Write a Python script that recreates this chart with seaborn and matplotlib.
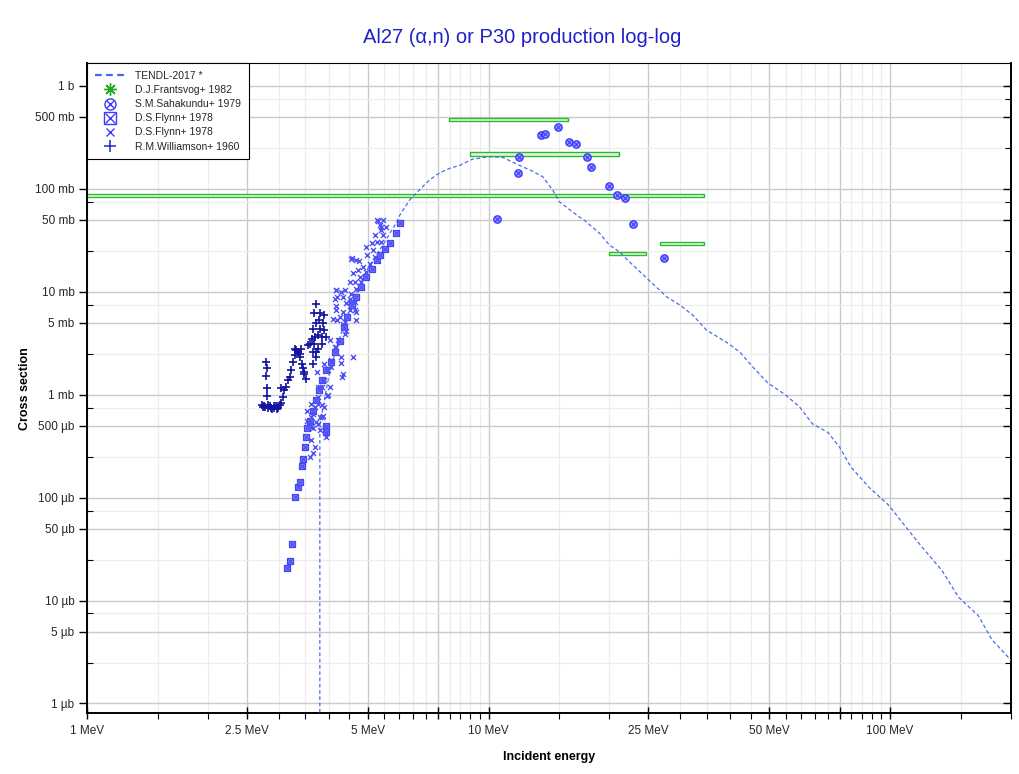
import matplotlib
matplotlib.use('Agg')
import numpy as np
import pandas as pd
import matplotlib.pyplot as plt
import matplotlib.ticker as mticker
import matplotlib.lines as mlines
from matplotlib.lines import Line2D
import seaborn as sns

# TENDL-2017 evaluation (MeV, mb)
tendl_e = [3.80, 3.80, 3.88, 4.0, 4.15, 4.3, 4.5, 4.7, 4.9, 5.1, 5.3, 5.5, 5.7, 5.9, 6.0,
           6.36, 6.8, 7.13, 7.55, 8.0, 8.5, 9.1, 10.05, 10.85, 11.9, 12.8, 13.65, 14.45,
           15.0, 15.9, 16.8, 17.3, 18.9, 20.0, 21.2, 22.0, 24.8, 27.8, 30.0, 32.3, 34.9,
           39.0, 42.2, 45.5, 49.6, 55.0, 59.5, 64.1, 70.0, 74.8, 79.9, 88.6, 99.3, 109.5,
           120.2, 134.6, 148, 166, 179, 197, 200]
tendl_mb = [1e-6, 0.5, 0.8, 1.5, 2.6, 4.0, 6.5, 10, 14.5, 19, 24, 30, 38, 47, 55,
            78, 102, 122, 143, 158, 170, 194, 205, 202, 170, 150, 131, 97,
            75, 63, 53.6, 49.7, 37, 28.4, 24.4, 21.0, 13.5, 8.9, 7.4, 5.9, 4.23,
            3.26, 2.60, 1.86, 1.30, 0.99, 0.76, 0.52, 0.43, 0.31, 0.198, 0.126, 0.084, 0.0517,
            0.0329, 0.0196, 0.0108, 0.0071, 0.0042, 0.0028, 0.0026]

# D.J.Frantsvog+ 1982 : energy ranges and values
fra_lo = [7.96, 8.97, 0.5, 19.9, 26.8]
fra_hi = [15.75, 21.1, 34.3, 24.7, 34.3]
fra_mb = [474, 217, 86, 23.6, 29.6]

# S.M.Sahakundu+ 1979
sah_e = [10.47, 11.85, 11.93, 13.5, 13.8, 14.9, 15.9, 16.5, 17.6, 18.0, 19.9, 20.9, 21.9, 22.9, 27.3]
sah_mb = [50.8, 142, 204, 333, 340, 399, 285, 273, 204, 163, 106, 87, 82, 45.5, 21.2]

# D.S.Flynn+ 1978 (boxed cross)
fly1_e = [3.15, 3.20, 3.24, 3.30, 3.35, 3.40, 3.43, 3.46, 3.49, 3.52, 3.54, 3.59, 3.65, 3.71,
          3.78, 3.84, 3.93, 4.05, 4.15, 4.26, 4.36, 4.44, 4.56, 4.68, 4.80, 4.94, 5.13, 5.26,
          5.36, 5.51, 5.67, 5.89, 6.01, 3.94, 3.94]
fly1_mb = [0.0205, 0.0245, 0.0358, 0.101, 0.127, 0.142, 0.204, 0.239, 0.31, 0.39, 0.47, 0.56,
           0.70, 0.88, 1.10, 1.38, 1.73, 2.1, 2.6, 3.3, 4.5, 5.7, 7.4, 8.9, 11.2, 14.0, 16.8,
           20.3, 22.7, 26.3, 29.5, 37, 46.4, 0.50, 0.43]

# D.S.Flynn+ 1978 (cross)
fly2_e = [3.59, 3.66, 3.70, 3.62, 3.93, 3.80, 3.76, 3.87, 3.66, 3.54, 3.54, 3.62, 3.85,
          3.94, 3.93, 3.80, 3.62, 3.72, 3.85, 3.66, 3.90, 3.76, 3.98, 3.80, 4.02, 3.90, 4.05,
          4.34, 4.30, 4.59, 4.30, 4.18, 4.02, 4.42, 4.19, 4.34, 4.64, 4.51, 4.16, 4.30, 4.19,
          4.18, 4.68, 4.55, 5.40, 5.31, 4.14, 4.21, 4.39, 4.05, 3.98, 3.85, 3.76, 3.69, 3.62,
          3.59, 3.76, 3.90, 4.31, 3.97, 3.74,
          5.27, 5.46, 5.36, 5.55, 5.40, 5.20, 5.46, 5.26, 5.12, 5.40, 5.15, 4.94, 4.99, 5.20,
          4.58, 4.76, 5.06, 4.86, 4.73, 4.59, 4.94, 4.78, 4.51, 4.64, 4.81, 4.68, 4.39, 4.18,
          4.55, 4.34, 4.51, 4.14, 4.64, 4.42, 4.18, 4.34, 4.51, 4.68, 4.26, 4.10, 4.68, 4.39]
fly2_mb = [0.25, 0.27, 0.31, 0.36, 0.39, 0.61, 0.52, 0.62, 0.47, 0.56, 0.70, 0.82, 0.79,
           0.42, 0.49, 0.45, 0.49, 0.54, 0.61, 0.65, 0.76, 0.82, 0.99, 1.19, 1.19, 1.38, 1.86,
           1.6, 2.03, 2.33, 2.33, 2.9, 3.38, 4.2, 5.3, 4.9, 6.6, 7.97, 7.2, 10.0, 8.8,
           10.4, 20.3, 20.6, 42.8, 49, 2.9, 3.38, 3.9, 2.16, 1.73, 1.19, 0.95, 0.76, 0.61,
           0.52, 1.19, 2.0, 1.47, 0.965, 1.66,
           49.7, 49.7, 44.4, 42.8, 39.7, 35.5, 35.5, 30.6, 29.5, 30.6, 25.4, 27.3, 22.7, 21.9,
           21.1, 20.0, 18.8, 17.4, 16.2, 15.1, 15.6, 14.0, 12.5, 12.5, 12.5, 10.7, 10.4, 10.4,
           9.6, 8.9, 8.6, 8.6, 7.97, 7.7, 6.6, 6.4, 6.6, 6.4, 5.7, 5.5, 5.3, 5.1]

# R.M.Williamson+ 1960
wil_e = [2.79, 2.80, 2.79, 2.81, 2.81, 2.76, 2.82, 2.72, 2.77, 2.82, 2.85, 2.89, 2.92, 2.95,
         2.99, 3.02, 3.04, 2.74, 2.87, 2.97, 2.93, 3.05, 3.09, 3.07, 3.13, 3.17, 3.20, 3.23,
         3.26, 3.29, 3.32, 3.35, 3.42, 3.39, 3.29, 3.39, 3.45, 3.48, 3.51, 3.47, 3.44, 3.59,
         3.69, 3.66, 3.72, 3.67, 3.71, 3.81, 3.90, 3.87, 3.80, 3.90, 3.76, 3.94, 3.85, 3.68,
         3.72, 3.66, 3.55, 3.76, 3.72, 3.66, 3.84, 3.78, 3.63]
wil_mb = [2.07, 1.82, 1.53, 1.16, 0.965, 0.78, 0.79, 0.79, 0.76, 0.74, 0.77, 0.72, 0.75, 0.77,
          0.74, 0.79, 0.84, 0.76, 0.74, 0.72, 0.78, 1.15, 1.10, 0.94, 1.19, 1.38, 1.49, 1.73,
          2.08, 2.42, 2.70, 2.60, 2.81, 2.33, 2.81, 2.51, 1.80, 1.60, 1.43, 1.65, 2.0, 3.14,
          3.65, 4.39, 4.92, 6.16, 7.56, 6.16, 5.92, 4.92, 4.39, 4.23, 3.78, 3.65, 3.14, 3.14,
          2.60, 2.60, 3.02, 2.81, 2.33, 2.0, 3.6, 5.3, 3.5]

tendl = pd.DataFrame({'E': tendl_e, 'xs': tendl_mb})

sns.set_theme(style='white')
plt.rcParams['font.family'] = ['Liberation Sans', 'DejaVu Sans']

fig = plt.figure(figsize=(10.2, 7.74), dpi=100)
ax = fig.add_axes([0.0853, 0.0782, 0.9059, 0.8404])
ax.set_xscale('log')
ax.set_yscale('log')

# Frantsvog energy-range boxes
ax.barh(y=fra_mb, width=np.array(fra_hi) - np.array(fra_lo), left=fra_lo,
        height=np.array(fra_mb) * 0.08, color='#e2f6e2', edgecolor='#2db82d',
        linewidth=1.0, zorder=2)

sns.lineplot(data=tendl, x='E', y='xs', estimator=None, sort=False, color='#4a6cec',
             linewidth=0.9, linestyle=(0, (3, 2)), ax=ax, zorder=3)

blue = '#3c3cff'
sns.scatterplot(x=sah_e, y=sah_mb, marker='o', s=28, color='#9c9cff', edgecolor=blue,
                linewidth=1.0, ax=ax, zorder=4)
sns.scatterplot(x=sah_e, y=sah_mb, marker='x', s=10, color=blue, linewidth=0.8, ax=ax, zorder=5)

sns.scatterplot(x=fly1_e, y=fly1_mb, marker='s', s=22, color='#7a7aff', edgecolor='#4646f0',
                linewidth=0.9, ax=ax, zorder=4)
sns.scatterplot(x=fly1_e, y=fly1_mb, marker='x', s=9, color='#4646f0', linewidth=0.7, ax=ax, zorder=4)
sns.scatterplot(x=fly2_e, y=fly2_mb, marker='x', s=13, color='#5050f8', linewidth=1.0, ax=ax, zorder=4)

sns.scatterplot(x=wil_e, y=wil_mb, marker='+', s=30, color='#12129e', linewidth=1.2, ax=ax, zorder=6)

ax.set_xlim(1, 200)
ax.set_ylim(8e-4, 1670)

# ticks and grid
ax.xaxis.set_major_locator(mticker.LogLocator(base=10, subs=[1, 2.5, 5, 7.5], numticks=50))
ax.xaxis.set_minor_locator(mticker.LogLocator(base=10, subs=[1.5, 2, 3, 3.5, 4, 4.5, 5.5, 6, 6.5,
                                                             7, 8, 8.5, 9, 9.5], numticks=50))
ax.yaxis.set_major_locator(mticker.LogLocator(base=10, subs=[1, 5], numticks=50))
ax.yaxis.set_minor_locator(mticker.LogLocator(base=10, subs=[2.5, 7.5], numticks=50))


def e_fmt(v, pos):
    m = v / 10 ** np.floor(np.log10(v) + 1e-9)
    if min(abs(m - k) for k in (1, 2.5, 5)) < 1e-6:
        return f'{v:g} MeV'
    return ''


def s_fmt(v, pos):
    if v >= 999:
        return f'{v / 1000:g} b'
    if v >= 0.999:
        return f'{v:g} mb'
    return f'{round(v * 1000, 6):g} µb'


ax.xaxis.set_major_formatter(mticker.FuncFormatter(e_fmt))
ax.xaxis.set_minor_formatter(mticker.NullFormatter())
ax.yaxis.set_major_formatter(mticker.FuncFormatter(s_fmt))
ax.yaxis.set_minor_formatter(mticker.NullFormatter())
ax.xaxis.get_offset_text().set_visible(False)
ax.yaxis.get_offset_text().set_visible(False)

ax.set_axisbelow(True)
ax.grid(which='major', color='#cacaca', linewidth=1.0)
ax.grid(which='minor', color='#ededed', linewidth=0.9)

ax.tick_params(axis='x', which='major', direction='inout', length=8, width=1, color='black',
               labelsize=8.5, pad=4, bottom=True)
ax.tick_params(axis='x', which='minor', direction='out', length=4, width=0.8, color='black', bottom=True)
ax.tick_params(axis='y', which='major', direction='out', length=6, width=1, color='black',
               labelsize=8.5, pad=3, left=True, right=True)
ax.tick_params(axis='y', which='minor', direction='in', length=4, width=0.8, color='black',
               left=True, right=True)

# right-hand ticks point inwards
for t in ax.yaxis.get_major_ticks() + ax.yaxis.get_minor_ticks():
    t.tick2line.set_marker(mlines.TICKLEFT)

for side in ['left', 'bottom', 'top', 'right']:
    ax.spines[side].set_color('black')
    ax.spines[side].set_linewidth(1.4)
ax.spines['top'].set_linewidth(0.8)

ax.set_xlabel('Incident energy', fontsize=9, fontweight='bold', color='black')
ax.set_ylabel('Cross section', fontsize=9, fontweight='bold', color='black')
ax.xaxis.set_label_coords(0.5, -0.058)
ax.yaxis.set_label_coords(-0.061, 0.5)

fig.text(0.512, 0.952, 'Al27 (α,n) or P30 production log-log', ha='center', va='center',
         fontsize=14.5, color='#2020c8')

handles = [
    Line2D([], [], color='#4466ee', linestyle=(0, (3, 2)), linewidth=1.6),
    Line2D([], [], color='#22aa22', marker=(8, 2, 0), markersize=9, linestyle='none', markeredgewidth=1),
    (Line2D([], [], color=blue, marker='o', markerfacecolor='none', markersize=8, linestyle='none'),
     Line2D([], [], color=blue, marker='x', markersize=6, linestyle='none')),
    (Line2D([], [], color=blue, marker='s', markerfacecolor='none', markersize=8, linestyle='none'),
     Line2D([], [], color=blue, marker='x', markersize=7, linestyle='none')),
    Line2D([], [], color=blue, marker='x', markersize=6, linestyle='none'),
    Line2D([], [], color='#2828c0', marker='+', markersize=9, linestyle='none', markeredgewidth=1.1),
]
labels = ['TENDL-2017 *', 'D.J.Frantsvog+ 1982', 'S.M.Sahakundu+ 1979', 'D.S.Flynn+ 1978',
          'D.S.Flynn+ 1978', 'R.M.Williamson+ 1960']
leg = ax.legend(handles, labels, loc='upper left', bbox_to_anchor=(0, 1), borderaxespad=0,
                frameon=True, fancybox=False, edgecolor='black', framealpha=1, fontsize=7.5,
                handlelength=3.0, handletextpad=0.9, labelspacing=0.4, borderpad=0.75)
leg.get_frame().set_linewidth(0.8)
leg.set_zorder(10)

fig.savefig('out.png', dpi=100)
